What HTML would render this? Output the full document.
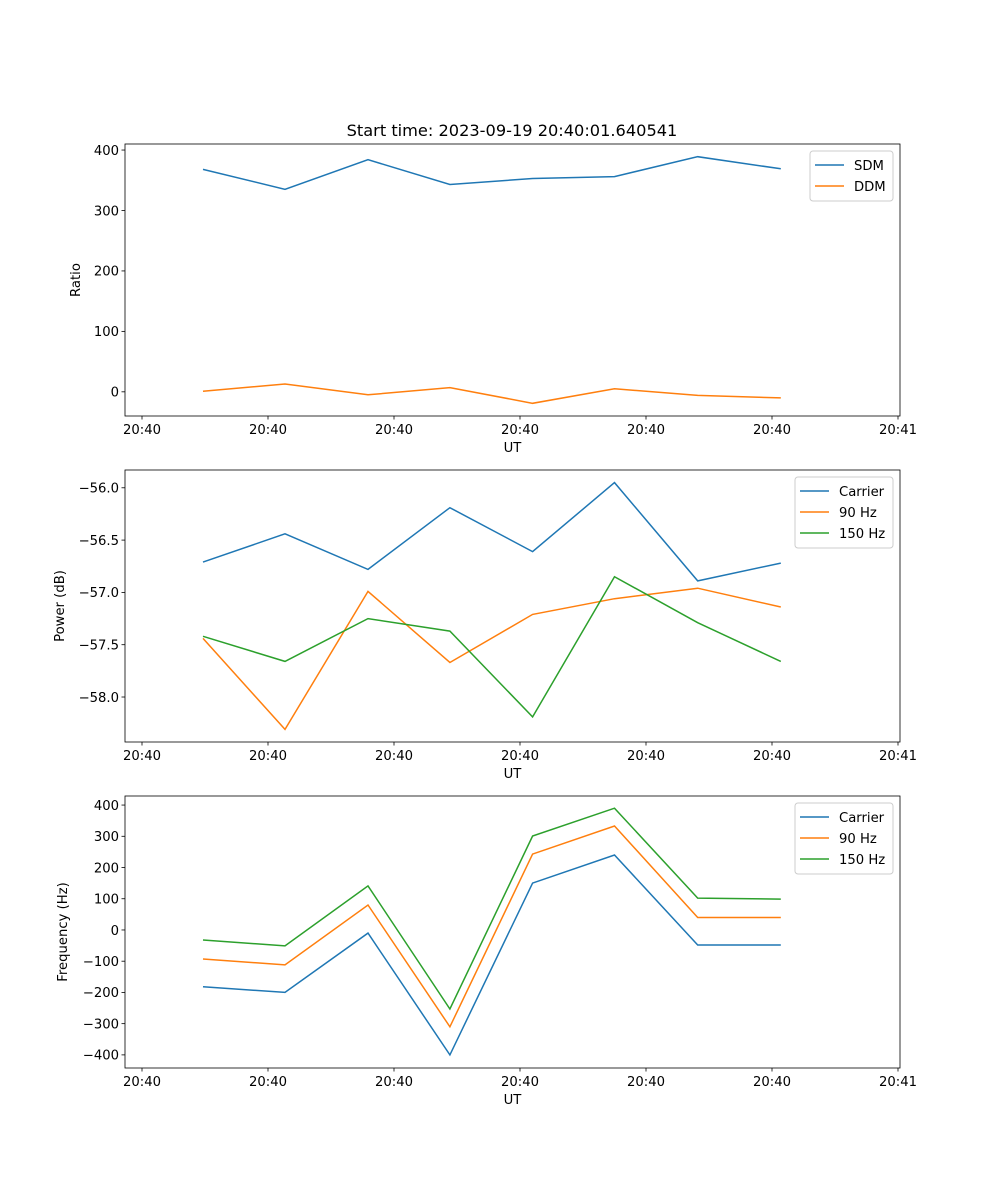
<!DOCTYPE html>
<html><head><meta charset="utf-8"><style>
body{margin:0;background:#fff}
svg{display:block;font-family:"DejaVu Sans","Liberation Sans",sans-serif}
</style></head><body>
<svg id="fig" width="1000" height="1200" viewBox="0 0 1000 1200" xmlns="http://www.w3.org/2000/svg">
<rect width="1000" height="1200" fill="#fff"/>
<text x="512" y="136" font-size="16.2" text-anchor="middle">Start time: 2023-09-19 20:40:01.640541</text>
</svg>
<script>
const times = [4.84, 11.35, 17.94, 24.44, 31.0, 37.5, 44.1, 50.7];
const xTickVals = [0, 10, 20, 30, 40, 50, 60];
const xTickLabels = ["20:40","20:40","20:40","20:40","20:40","20:40","20:41"];
const sdm = [368, 335, 384, 343, 353, 356, 389, 369];
const ddm = [1, 13, -5, 7, -19, 5, -6, -10];
const pwrCarrier = [-56.71, -56.44, -56.78, -56.19, -56.61, -55.95, -56.89, -56.72];
const pwr90 = [-57.44, -58.31, -56.99, -57.67, -57.21, -57.06, -56.96, -57.14];
const pwr150 = [-57.42, -57.66, -57.25, -57.37, -58.19, -56.85, -57.29, -57.66];
const frqCarrier = [-182, -200, -10, -400, 150, 240, -48, -48];
const frq90 = [-93, -112, 80, -310, 243, 333, 40, 40];
const frq150 = [-32, -51, 141, -253, 301, 390, 102, 99];
const ratioTicks = [0, 100, 200, 300, 400];
const powerTicks = [-58.0, -57.5, -57.0, -56.5, -56.0];
const freqTicks = [-400, -300, -200, -100, 0, 100, 200, 300, 400];

const NS = "http://www.w3.org/2000/svg";
const fig = document.getElementById('fig');
function mk(tag, attrs, parent){const e=document.createElementNS(NS,tag);for(const k in attrs)e.setAttribute(k,attrs[k]);(parent||fig).appendChild(e);return e;}
const L=125,R=900,FS=13.2;
const xs = t => 142 + (t - 0) * (898 - 142) / 60;

function panel(idx, top, bot, ymin, ymax, yticks, fmt, ylabel, series, legend){
  const ys = v => bot - (v - ymin) / (ymax - ymin) * (bot - top);
  const g = mk('g', {});
  
  
  series.forEach(s=>{
    const p = mk('polyline', {points: s.vals.map((v,i)=>xs(times[i]).toFixed(1)+','+ys(v).toFixed(1)).join(' '), fill:'none', stroke:s.color, 'stroke-width':1.5}, g);
    
    
  });
  const fr = mk('rect', {x:L, y:top, width:R-L, height:bot-top, fill:'none', stroke:'#000', 'stroke-width':0.8}, g);
  
  
  xTickVals.forEach((t,i)=>{
    const x = xs(t);
    mk('line',{x1:x,x2:x,y1:bot,y2:bot+3.5,stroke:'#000','stroke-width':0.8},g);
    const tx = mk('text',{x:x,y:bot+18,'font-size':FS,'text-anchor':'middle'},g);
    tx.textContent = xTickLabels[i];
    
    
  });
  yticks.forEach(v=>{
    const y = ys(v);
    mk('line',{x1:L-3.5,x2:L,y1:y,y2:y,stroke:'#000','stroke-width':0.8},g);
    const tx = mk('text',{x:L-6,y:y+4.8,'font-size':FS,'text-anchor':'end'},g);
    tx.textContent = fmt(v);
    
    
  });
  const xl = mk('text',{x:(L+R)/2,y:bot+36,'font-size':FS,'text-anchor':'middle'},g);
  xl.textContent='UT';
  
  
  const yc=(top+bot)/2, yx=legend.ylx;
  const yl = mk('text',{x:yx,y:yc,'font-size':FS,'text-anchor':'middle',transform:`rotate(-90 ${yx} ${yc})`},g);
  yl.textContent=ylabel;
  
  
  const lw = legend.w, lh = 8 + series.length*21;
  const lx = 893 - lw, ly = top + 7;
  const lg = mk('g',{},g);
  
  
  mk('rect',{x:lx,y:ly,width:lw,height:lh,rx:3,fill:'#fff','fill-opacity':0.8,stroke:'#ccc','stroke-width':1},lg);
  series.forEach((s,i)=>{
    const y = ly + 14 + i*21;
    mk('line',{x1:lx+5,x2:lx+34,y1:y,y2:y,stroke:s.color,'stroke-width':1.5},lg);
    const t = mk('text',{x:lx+44,y:y+4.8,'font-size':FS},lg);
    t.textContent = s.name;
    
    
  });
}
const B='#1f77b4',O='#ff7f0e',G='#2ca02c';
panel(1,144,416,-40,410,ratioTicks,v=>String(v),'Ratio',
  [{key:'sdm',name:'SDM',vals:sdm,color:B},{key:'ddm',name:'DDM',vals:ddm,color:O}],{w:83,ylx:80});
panel(2,470,742,-58.43,-55.83,powerTicks,v=>'\u2212'+Math.abs(v).toFixed(1),'Power (dB)',
  [{key:'carrier',name:'Carrier',vals:pwrCarrier,color:B},{key:'90hz',name:'90 Hz',vals:pwr90,color:O},{key:'150hz',name:'150 Hz',vals:pwr150,color:G}],{w:98,ylx:64});
panel(3,796,1068,-442,429,freqTicks,v=>v<0?'\u2212'+Math.abs(v):String(v),'Frequency (Hz)',
  [{key:'carrier',name:'Carrier',vals:frqCarrier,color:B},{key:'90hz',name:'90 Hz',vals:frq90,color:O},{key:'150hz',name:'150 Hz',vals:frq150,color:G}],{w:98,ylx:67});
</script>
</body></html>
